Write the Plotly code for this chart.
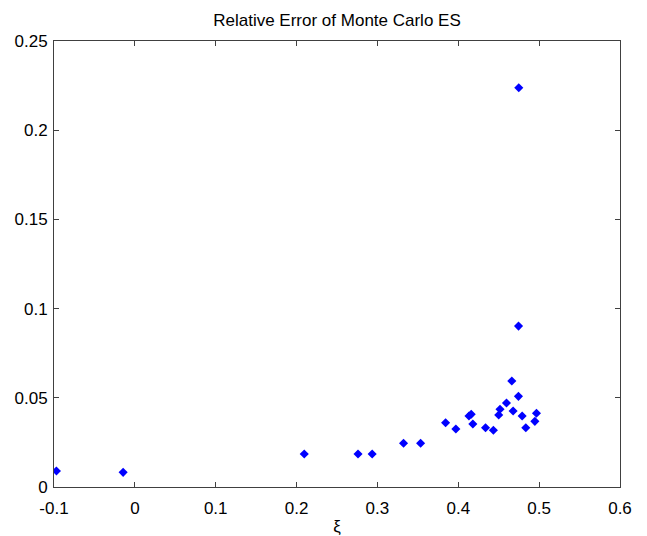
import plotly.graph_objects as go

# Shape parameter estimates and relative error of the Monte Carlo ES
xi = [-0.097, -0.0145, 0.2095, 0.276, 0.2935, 0.3323, 0.3534, 0.3843, 0.397,
      0.4132, 0.416, 0.418, 0.4337, 0.4434, 0.450, 0.4516, 0.4596, 0.4662,
      0.4678, 0.4744, 0.479, 0.4835, 0.4947, 0.4967, 0.4745, 0.4748]
rel_err = [0.009, 0.0082, 0.0185, 0.0185, 0.0185, 0.0245, 0.0245, 0.036, 0.0325,
           0.0398, 0.0408, 0.0353, 0.0332, 0.0318, 0.0404, 0.0436, 0.0471, 0.0594,
           0.0426, 0.0508, 0.0398, 0.0332, 0.0368, 0.0413, 0.0902, 0.2238]

x_ticks = [-0.1, 0, 0.1, 0.2, 0.3, 0.4, 0.5, 0.6]
x_tick_text = ["-0.1", "0", "0.1", "0.2", "0.3", "0.4", "0.5", "0.6"]
y_ticks = [0, 0.05, 0.1, 0.15, 0.2, 0.25]
y_tick_text = ["0", "0.05", "0.1", "0.15", "0.2", "0.25"]

font = dict(family="Liberation Sans, Arial, sans-serif", size=17, color="#000000")

fig = go.Figure(
    go.Scatter(
        x=xi, y=rel_err, mode="markers",
        marker=dict(symbol="diamond", size=7, color="#0000FF", line=dict(width=0)),
    )
)

axis_common = dict(
    showgrid=False, zeroline=False, showline=True, linecolor="#404040", linewidth=1,
    mirror="ticks", ticks="inside", ticklen=5, tickcolor="#404040", tickwidth=1,
    tickfont=font, automargin=False,
)

fig.update_layout(
    width=647, height=536,
    margin=dict(l=54, r=27, t=41, b=49),
    paper_bgcolor="white", plot_bgcolor="white",
    showlegend=False,
    font=font,
    title=dict(text="Relative Error of Monte Carlo ES", xref="paper", x=0.5,
               xanchor="center", y=1 - 20 / 536, yanchor="middle",
               font=dict(size=17)),
    xaxis=dict(range=[-0.1, 0.6], tickvals=x_ticks, ticktext=x_tick_text,
               ticklabelstandoff=6,
               title=dict(text="ξ", standoff=5, font=font), **axis_common),
    yaxis=dict(range=[0, 0.25], tickvals=y_ticks, ticktext=y_tick_text,
               ticklabelstandoff=2, **axis_common),
)

fig.write_html("out.html")
